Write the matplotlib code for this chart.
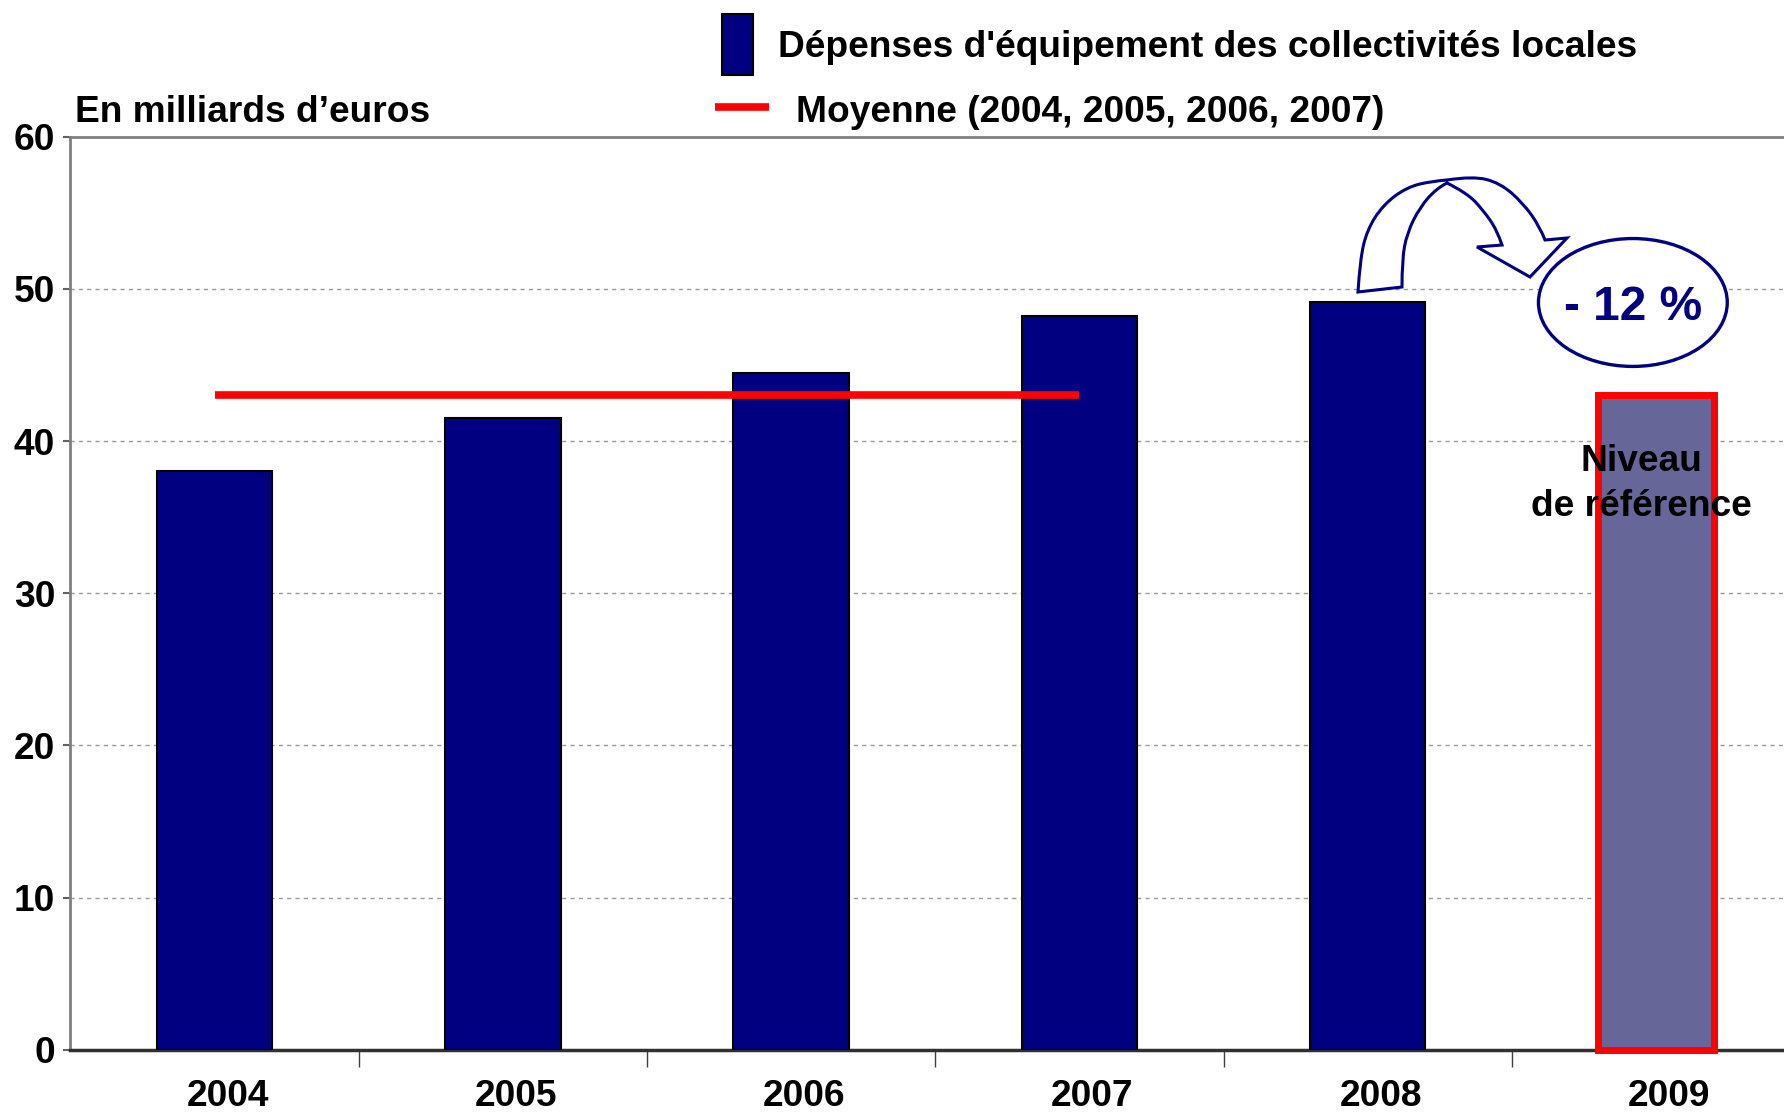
import numpy as np
import matplotlib.pyplot as plt
from matplotlib.patches import Rectangle, Ellipse, PathPatch
from matplotlib.lines import Line2D
from matplotlib.path import Path
from matplotlib.transforms import Affine2D, ScaledTranslation

plt.rcParams['font.family'] = ['Liberation Sans', 'DejaVu Sans']
plt.rcParams['font.weight'] = 'bold'

# data
years = ['2004', '2005', '2006', '2007', '2008', '2009']
depenses = [38.0, 41.5, 44.5, 48.2, 49.1]
reference_2009 = 43.0
moyenne_years = [0, 3]  # mean line spans 2004 -> 2007
moyenne = np.mean(depenses[:4])
yticks = [0, 10, 20, 30, 40, 50, 60]

navy = '#000080'
fs = 26.7
W, H = 1784, 1112
fig = plt.figure(figsize=(W / 100, H / 100), dpi=100)
ax = fig.add_axes([0.0395, 0.0558, 0.9695, 0.8214])

x = np.arange(len(years))
ax.bar(x[:5], depenses, width=0.4, color=navy, edgecolor='black', linewidth=1.5, zorder=3)
ax.bar(x[5], reference_2009, width=0.4, color='#666699', edgecolor='red', linewidth=5,
       zorder=3, clip_on=False)

ax.plot(moyenne_years, [moyenne, moyenne], color='red', lw=5.5, zorder=4, solid_capstyle='butt')


def smooth_run(pts, first=True):
    # quadratic b-spline style path through a run of outline points
    verts, codes = [], []
    if first:
        verts.append(pts[0]); codes.append(Path.MOVETO)
    else:
        verts.append(pts[0]); codes.append(Path.LINETO)
    for i in range(1, len(pts) - 2):
        mid = ((pts[i][0] + pts[i + 1][0]) / 2, (pts[i][1] + pts[i + 1][1]) / 2)
        verts += [pts[i], mid]; codes += [Path.CURVE3, Path.CURVE3]
    verts += [pts[-2], pts[-1]]; codes += [Path.CURVE3, Path.CURVE3]
    return verts, codes


# curved block arrow outline (pixels, top-left origin)
outer_left = [(1358, 292), (1360, 260), (1367, 230), (1383, 205), (1407, 187), (1433, 181), (1447, 180)]
outer_right = [(1447, 180), (1473, 176), (1500, 183), (1523, 203), (1540, 227), (1545, 240)]
head = [(1567, 238), (1530, 277), (1477, 247), (1502, 245)]
inner_right = [(1502, 245), (1497, 230), (1483, 210), (1467, 193), (1447, 183)]
inner_left = [(1447, 183), (1437, 188), (1420, 207), (1407, 233), (1402, 260), (1402, 287)]

verts, codes = smooth_run(outer_left)
v, c = smooth_run(outer_right, first=False); verts += v; codes += c
verts += head; codes += [Path.LINETO] * len(head)
v, c = smooth_run(inner_right, first=False); verts += v; codes += c
v, c = smooth_run(inner_left, first=False); verts += v; codes += c
verts.append(outer_left[0]); codes.append(Path.CLOSEPOLY)
px_to_disp = Affine2D().scale(1, -1).translate(0, H)
fig.patches.append(PathPatch(Path(verts, codes), transform=px_to_disp, facecolor='white',
                             edgecolor=navy, lw=2.2, zorder=5, joinstyle='miter'))

ax.add_patch(Ellipse((4.92, 49.1), 0.655, 8.4, facecolor='white', edgecolor=navy,
                     lw=2.4, zorder=5))
ax.text(4.92, 48.75, '- 12 %', color=navy, fontsize=34.5, fontweight='bold',
        ha='center', va='center', zorder=6)
ax.text(4.95, 37.15, 'Niveau\nde référence', color='black', fontsize=fs, fontweight='bold',
        ha='center', va='center', zorder=6, linespacing=1.37)

ax.set_xlim(-0.5, 5.5)
ax.set_ylim(0, 60)
ax.set_yticks(yticks)
ax.set_xticks(x)
ax.set_xticklabels(years)
ax.set_xticks(np.arange(0.5, 5.5, 1), minor=True)
ax.tick_params(axis='x', which='major', length=0, pad=21, labelsize=fs)
ax.tick_params(axis='x', which='minor', length=12, width=1, color='#404040')
ax.tick_params(axis='y', length=5, width=1.5, color='#606060', pad=6, labelsize=fs)
shift = ScaledTranslation(0.13, 0, fig.dpi_scale_trans)
for lab in ax.get_xticklabels():
    lab.set_transform(lab.get_transform() + shift)

ax.yaxis.grid(True, linestyle=(0, (3, 3)), color='#999999', lw=1, zorder=0)
ax.set_axisbelow(True)
for s in ['top', 'left']:
    ax.spines[s].set_color('#808080')
    ax.spines[s].set_linewidth(2)
ax.spines['right'].set_visible(False)
ax.spines['bottom'].set_color('#303030')
ax.spines['bottom'].set_linewidth(2.5)

fig.text(0.042, 0.899, 'En milliards d’euros', fontsize=fs, fontweight='bold', va='center')

# legend
fig.patches.append(Rectangle((0.4047, 0.9326), 0.0174, 0.0548, transform=fig.transFigure,
                             facecolor=navy, edgecolor='black', lw=1.5))
fig.text(0.436, 0.957, "Dépenses d'équipement des collectivités locales",
         fontsize=fs, fontweight='bold', va='center')
fig.lines.append(Line2D([0.4006, 0.4312], [0.9038, 0.9038], transform=fig.transFigure,
                        color='red', lw=5.5, solid_capstyle='butt'))
fig.text(0.446, 0.899, 'Moyenne (2004, 2005, 2006, 2007)',
         fontsize=fs, fontweight='bold', va='center')

fig.savefig('out.png', dpi=100)
